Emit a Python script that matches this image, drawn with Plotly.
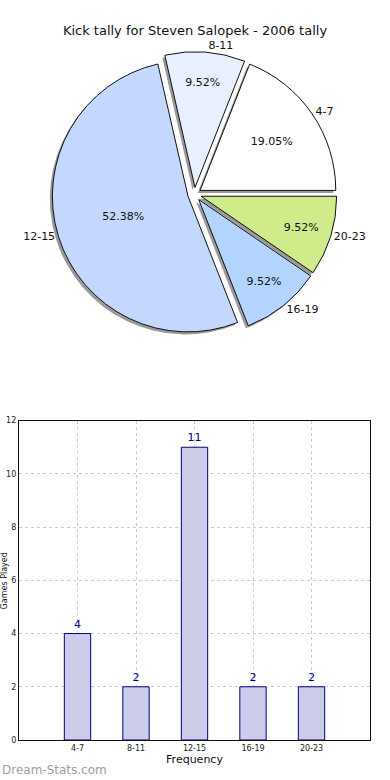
import plotly.graph_objects as go

# ---- data ----
categories = ["4-7", "8-11", "12-15", "16-19", "20-23"]
tally = [4, 2, 11, 2, 2]
slice_colors = ["#ffffff", "#e8f0ff", "#c4d8ff", "#b3d4ff", "#cfeb8a"]
title_text = "Kick tally for Steven Salopek - 2006 tally"
y_ticks = [0, 2, 4, 6, 8, 10, 12]

FONT = "DejaVu Sans"
W, H = 390, 780
ML, MR, MT, MB = 19, 20, 0, 40
PW, PH = W - ML - MR, H - MT - MB

total = sum(tally)
# plotly counterclockwise pies end the first slice at the rotation point;
# shift so the first slice starts at 3 o'clock like the reference
rot = 90 - 360 * tally[0] / total

pie_dom_y = [0.545, 0.93]
pie_dom_x = [0.02, 0.98]
pull = [0.05] * len(categories)
dx, dy = -2.5 / PW, 2.5 / PH

fig = go.Figure()

# shadow
fig.add_trace(go.Pie(
    labels=categories, values=tally, sort=False, direction="counterclockwise",
    rotation=rot, pull=pull, textinfo="none", hoverinfo="skip",
    marker=dict(colors=["#9a9a9a"] * len(categories), line=dict(width=0)),
    domain=dict(x=[pie_dom_x[0] + dx, pie_dom_x[1] + dx], y=[pie_dom_y[0] - dy, pie_dom_y[1] - dy]),
    showlegend=False,
))
# main slices with percentages
fig.add_trace(go.Pie(
    labels=categories, values=tally, sort=False, direction="counterclockwise",
    rotation=rot, pull=pull, texttemplate="%{percent:.2%}", textposition="inside",
    insidetextorientation="horizontal",
    textfont=dict(family=FONT, size=11, color="#111111"),
    marker=dict(colors=slice_colors, line=dict(width=1, color="#111111")),
    domain=dict(x=pie_dom_x, y=pie_dom_y), showlegend=False,
))
# outside labels
fig.add_trace(go.Pie(
    labels=categories, values=tally, sort=False, direction="counterclockwise",
    rotation=rot, pull=pull, texttemplate="%{label}", textposition="outside",
    textfont=dict(family=FONT, size=11, color="#111111"),
    marker=dict(colors=["rgba(0,0,0,0)"] * len(categories), line=dict(width=0)),
    domain=dict(x=pie_dom_x, y=pie_dom_y), showlegend=False, hoverinfo="skip",
))

# bar chart
fig.add_trace(go.Bar(
    x=categories, y=tally, width=0.45, text=[str(v) for v in tally],
    textposition="outside", cliponaxis=False,
    textfont=dict(family=FONT, size=11, color="#000080"),
    marker=dict(color="#ccccea", line=dict(color="#000080", width=1)),
    xaxis="x", yaxis="y", showlegend=False,
))

grid = dict(showgrid=True, gridcolor="#cccccc", griddash="dot", gridwidth=1)
fig.update_layout(
    width=W, height=H, margin=dict(l=ML, r=MR, t=MT, b=MB, autoexpand=False),
    paper_bgcolor="white", plot_bgcolor="white",
    font=dict(family=FONT, color="#111111"),
    title=dict(text=title_text, x=0.5, xanchor="center", y=1 - 30 / H, yanchor="middle",
               font=dict(family=FONT, size=13, color="#111111")),
    xaxis=dict(domain=[0, 1], range=[-1, 5], type="category", automargin=False,
               tickfont=dict(size=8, color="#222"), ticks="", **grid,
               showline=True, linecolor="#111", linewidth=1.2, mirror=True,
               title=dict(text="Frequency", font=dict(size=11), standoff=2)),
    yaxis=dict(domain=[0, (PH - (421 - MT)) / PH + 0.0005], range=[0, 12], tickvals=y_ticks,
               automargin=False,
               tickfont=dict(size=8, color="#222"), ticks="", **grid, zeroline=False,
               showline=True, linecolor="#111", linewidth=1.2, mirror=True),
    bargap=0.5,
)

fig.add_annotation(text="Games Played", xref="paper", yref="paper", x=-9 / PW, y=0.215,
                   xanchor="right", yanchor="middle", textangle=-90, showarrow=False,
                   borderpad=0, font=dict(family=FONT, size=8, color="#111"))
fig.add_annotation(text="Dream-Stats.com", xref="paper", yref="paper", x=-ML / PW, y=-30 / PH,
                   xanchor="left", yanchor="middle", showarrow=False,
                   font=dict(family=FONT, size=12, color="#a0a0a0"))

fig.write_html("out.html", config={"displayModeBar": False},
               post_script="document.body.style.margin='0';")
